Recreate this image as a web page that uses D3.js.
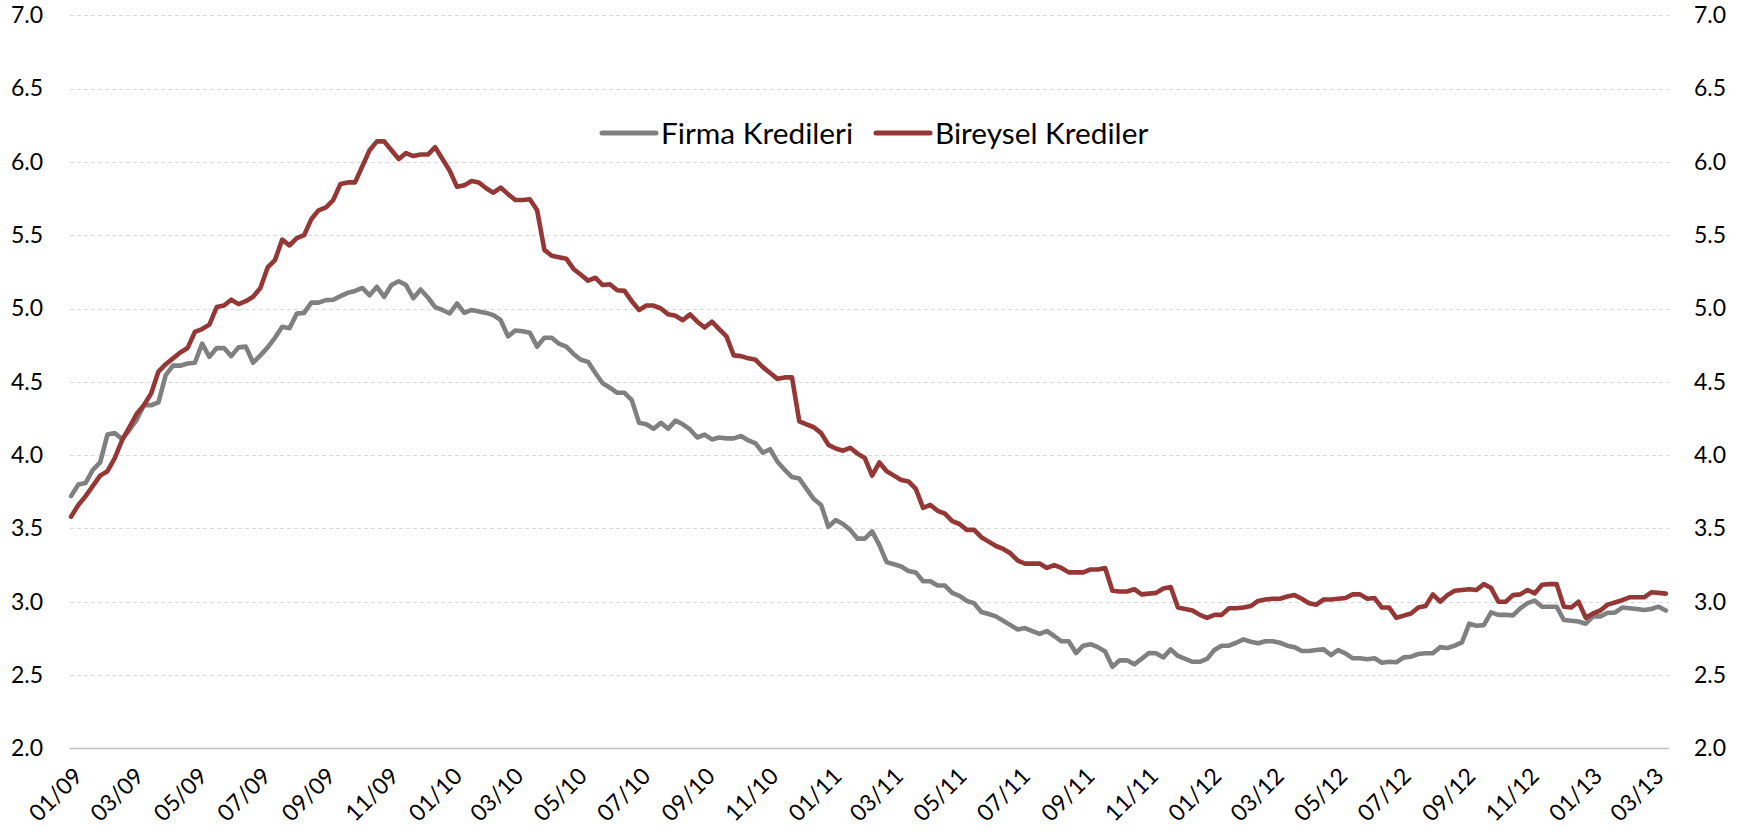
<!DOCTYPE html>
<html>
<head>
<meta charset="utf-8">
<script src="https://cdn.jsdelivr.net/npm/d3@7"></script>
<style>
  html, body { margin: 0; padding: 0; background: #ffffff; }
  svg { display: block; }
  text { font-family: Lato, "Open Sans", sans-serif; fill: #000; }
</style>
</head>
<body>
<svg id="chart" width="1752" height="834"></svg>
<script>
// Weekly series, first observation on Friday 2 January 2009
const firstWeek = new Date(Date.UTC(2009, 0, 2));

const seriesNames = ["Firma Kredileri", "Bireysel Krediler"];
const seriesColors = ["#808080", "#953735"];

const firmaKredileri = [
  3.72, 3.80, 3.81, 3.90, 3.95, 4.14, 4.15, 4.11, 4.17, 4.24,
  4.34, 4.34, 4.36, 4.545, 4.61, 4.61, 4.625, 4.63, 4.76, 4.67,
  4.73, 4.73, 4.675, 4.735, 4.74, 4.63, 4.68, 4.735, 4.80, 4.875,
  4.865, 4.965, 4.97, 5.04, 5.04, 5.057, 5.06, 5.084, 5.107, 5.12,
  5.14, 5.09, 5.148, 5.08, 5.16, 5.186, 5.16, 5.07, 5.13, 5.075,
  5.01, 4.99, 4.966, 5.034, 4.97, 4.99, 4.98, 4.97, 4.955, 4.92,
  4.81, 4.85, 4.845, 4.835, 4.74, 4.80, 4.80, 4.76, 4.74, 4.69,
  4.65, 4.636, 4.56, 4.49, 4.46, 4.425, 4.425, 4.375, 4.22, 4.21,
  4.18, 4.22, 4.18, 4.235, 4.21, 4.175, 4.12, 4.14, 4.107, 4.12,
  4.114, 4.114, 4.13, 4.10, 4.08, 4.016, 4.04, 3.955, 3.90, 3.85,
  3.84, 3.77, 3.70, 3.66, 3.51, 3.557, 3.53, 3.49, 3.43, 3.43,
  3.48, 3.386, 3.27, 3.255, 3.24, 3.21, 3.20, 3.14, 3.14, 3.11,
  3.11, 3.06, 3.04, 3.005, 2.99, 2.93, 2.916, 2.90, 2.87, 2.84,
  2.81, 2.82, 2.80, 2.78, 2.80, 2.766, 2.73, 2.73, 2.65, 2.70,
  2.71, 2.69, 2.66, 2.557, 2.60, 2.60, 2.573, 2.61, 2.65, 2.648,
  2.62, 2.675, 2.63, 2.61, 2.59, 2.59, 2.61, 2.67, 2.70, 2.70,
  2.72, 2.743, 2.727, 2.716, 2.73, 2.73, 2.72, 2.70, 2.69, 2.664,
  2.664, 2.67, 2.675, 2.636, 2.67, 2.648, 2.614, 2.614, 2.607, 2.614,
  2.584, 2.59, 2.587, 2.62, 2.625, 2.643, 2.648, 2.648, 2.69, 2.684,
  2.70, 2.723, 2.85, 2.836, 2.84, 2.927, 2.91, 2.91, 2.907, 2.955,
  2.99, 3.007, 2.966, 2.966, 2.966, 2.875, 2.87, 2.865, 2.85, 2.90,
  2.90, 2.925, 2.925, 2.96, 2.955, 2.95, 2.943, 2.95, 2.966, 2.94
];

const bireyselKrediler = [
  3.58, 3.66, 3.72, 3.79, 3.86, 3.89, 3.98, 4.10, 4.19, 4.28,
  4.34, 4.42, 4.57, 4.62, 4.66, 4.70, 4.73, 4.84, 4.86, 4.89,
  5.01, 5.02, 5.06, 5.03, 5.05, 5.08, 5.14, 5.28, 5.33, 5.47,
  5.43, 5.48, 5.50, 5.61, 5.67, 5.69, 5.74, 5.85, 5.86, 5.86,
  5.97, 6.08, 6.14, 6.14, 6.08, 6.02, 6.06, 6.04, 6.05, 6.05,
  6.10, 6.02, 5.94, 5.83, 5.84, 5.87, 5.86, 5.82, 5.79, 5.825,
  5.78, 5.74, 5.74, 5.745, 5.67, 5.40, 5.36, 5.35, 5.34, 5.27,
  5.23, 5.19, 5.21, 5.16, 5.165, 5.125, 5.12, 5.05, 4.99, 5.02,
  5.02, 5.00, 4.96, 4.95, 4.92, 4.96, 4.91, 4.87, 4.91, 4.86,
  4.81, 4.68, 4.675, 4.66, 4.65, 4.60, 4.56, 4.52, 4.53, 4.53,
  4.23, 4.21, 4.19, 4.15, 4.07, 4.045, 4.03, 4.05, 4.01, 3.98,
  3.86, 3.95, 3.89, 3.86, 3.83, 3.82, 3.77, 3.64, 3.66, 3.62,
  3.60, 3.55, 3.53, 3.49, 3.49, 3.44, 3.41, 3.38, 3.36, 3.33,
  3.28, 3.26, 3.26, 3.26, 3.23, 3.25, 3.23, 3.20, 3.20, 3.20,
  3.22, 3.22, 3.23, 3.075, 3.07, 3.07, 3.085, 3.05, 3.055, 3.06,
  3.09, 3.10, 2.96, 2.95, 2.94, 2.91, 2.89, 2.91, 2.91, 2.955,
  2.955, 2.96, 2.97, 3.005, 3.015, 3.02, 3.02, 3.035, 3.045, 3.02,
  2.99, 2.98, 3.015, 3.015, 3.02, 3.025, 3.05, 3.05, 3.02, 3.025,
  2.96, 2.96, 2.89, 2.905, 2.92, 2.96, 2.97, 3.05, 3.00, 3.045,
  3.075, 3.08, 3.085, 3.08, 3.12, 3.093, 3.00, 3.00, 3.045, 3.05,
  3.08, 3.057, 3.116, 3.12, 3.12, 2.966, 2.96, 3.00, 2.89, 2.92,
  2.94, 2.98, 2.995, 3.01, 3.03, 3.03, 3.03, 3.064, 3.06, 3.055
];

const yTicks = [2.0, 2.5, 3.0, 3.5, 4.0, 4.5, 5.0, 5.5, 6.0, 6.5, 7.0];

const dates = firmaKredileri.map((_, i) => d3.utcDay.offset(firstWeek, 7 * i));
const series = [firmaKredileri, bireyselKrediler].map((vals, k) => ({
  name: seriesNames[k],
  color: seriesColors[k],
  points: vals.map((v, i) => ({ date: dates[i], v }))
}));

const plot = { left: 70, right: 1669, top: 15.3, bottom: 748.3 };
const svg = d3.select("#chart");

const x = d3.scaleUtc()
  .domain([new Date(Date.UTC(2009, 0, 1)), d3.utcDay.offset(dates[dates.length - 1], 3)])
  .range([plot.left, plot.right]);
const y = d3.scaleLinear().domain([2, 7]).range([plot.bottom, plot.top]);

svg.append("rect").attr("width", 1752).attr("height", 834).attr("fill", "#fff");

// Horizontal gridlines (dashed) and the solid base line at 2.0
svg.append("g").selectAll("line")
  .data(yTicks)
  .join("line")
  .attr("x1", plot.left).attr("x2", plot.right)
  .attr("y1", d => Math.round(y(d)) + 0.5).attr("y2", d => Math.round(y(d)) + 0.5)
  .attr("stroke", d => d === 2 ? "#bfbfbf" : "#dadada")
  .attr("stroke-width", d => d === 2 ? 1.5 : 1.2)
  .attr("stroke-dasharray", d => d === 2 ? null : "4,3");

// Left and right value axes
const fmt = d3.format(".1f");
const leftAxis = d3.axisLeft(y).tickValues(yTicks).tickFormat(fmt).tickSize(0).tickPadding(0);
const rightAxis = d3.axisRight(y).tickValues(yTicks).tickFormat(fmt).tickSize(0).tickPadding(0);

const gl = svg.append("g").attr("transform", "translate(43,0)").call(leftAxis);
const gr = svg.append("g").attr("transform", "translate(1694,0)").call(rightAxis);
[gl, gr].forEach(g => {
  g.select(".domain").remove();
  g.selectAll("text")
    .attr("font-family", "Lato, sans-serif")
    .attr("font-size", 23)
    .attr("fill", "#000");
});

// Date axis: every second month, labels slanted
const xTicks = d3.utcMonth.every(2).range(new Date(Date.UTC(2009, 0, 1)), new Date(Date.UTC(2013, 3, 1)));
const gx = svg.append("g")
  .attr("transform", `translate(0,${plot.bottom})`)
  .call(d3.axisBottom(x).tickValues(xTicks).tickFormat(d3.utcFormat("%m/%y")).tickSize(0));
gx.select(".domain").remove();
gx.selectAll("text")
  .attr("font-family", "Lato, sans-serif")
  .attr("font-size", 23)
  .attr("fill", "#000")
  .attr("text-anchor", "end")
  .attr("dy", null)
  .attr("y", null)
  .attr("dominant-baseline", "central")
  .attr("transform", "translate(7,23) rotate(-45)");

// Series lines
const line = d3.line().x(d => x(d.date)).y(d => y(d.v));
svg.append("g").selectAll("path")
  .data(series)
  .join("path")
  .attr("d", d => line(d.points))
  .attr("fill", "none")
  .attr("stroke", d => d.color)
  .attr("stroke-width", 4.6)
  .attr("stroke-linejoin", "round")
  .attr("stroke-linecap", "round");

// Legend
const legendItems = [
  { x: 602, name: seriesNames[0], color: seriesColors[0] },
  { x: 876, name: seriesNames[1], color: seriesColors[1] }
];
const lg = svg.append("g").selectAll("g").data(legendItems).join("g")
  .attr("transform", d => `translate(${d.x},133)`);
lg.append("line")
  .attr("x1", 0).attr("x2", 54).attr("y1", 0).attr("y2", 0)
  .attr("stroke", d => d.color).attr("stroke-width", 5).attr("stroke-linecap", "round");
lg.append("text")
  .attr("x", 59).attr("y", 11)
  .attr("font-family", "Lato, sans-serif")
  .attr("font-size", 29.8)
  .text(d => d.name);
</script>
</body>
</html>
